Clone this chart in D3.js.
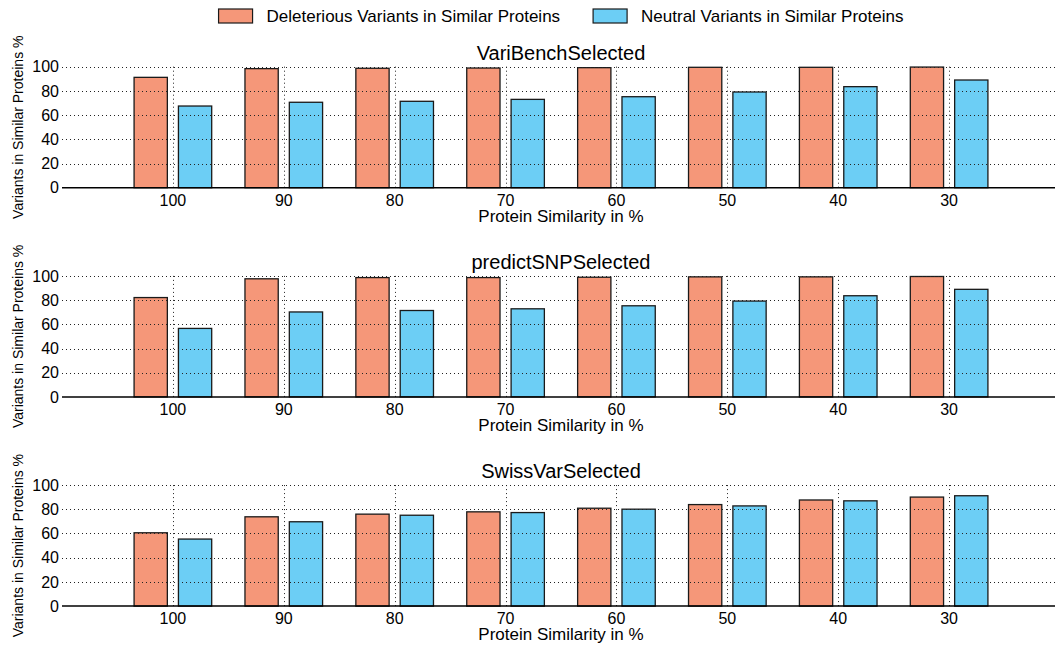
<!DOCTYPE html>
<html>
<head>
<meta charset="utf-8">
<script src="https://cdn.jsdelivr.net/npm/d3@7"></script>
<style>
  html, body { margin: 0; padding: 0; background: #fff; }
  svg { display: block; font-family: "Liberation Sans", Arial, sans-serif; }
</style>
</head>
<body>
<svg id="chart" width="1055" height="650"></svg>
<script>
// Protein similarity thresholds (x categories)
const categories = ["100", "90", "80", "70", "60", "50", "40", "30"];
const yTicks = [0, 20, 40, 60, 80, 100];
const seriesNames = ["Deleterious Variants in Similar Proteins", "Neutral Variants in Similar Proteins"];
const panelTitles = ["VariBenchSelected", "predictSNPSelected", "SwissVarSelected"];

// Percent of variants found in similar proteins, per dataset
const variBenchDeleterious = [91.2, 98.4, 98.7, 98.9, 99.2, 99.5, 99.5, 99.7];
const variBenchNeutral     = [67.5, 70.6, 71.4, 73.0, 75.2, 79.1, 83.5, 89.0];
const predictSNPDeleterious = [82.1, 97.6, 98.6, 98.6, 98.9, 99.2, 99.2, 99.5];
const predictSNPNeutral     = [56.6, 70.2, 71.4, 72.8, 75.3, 79.2, 83.6, 88.9];
const swissVarDeleterious = [60.6, 73.8, 76.0, 77.9, 80.9, 83.9, 87.7, 90.1];
const swissVarNeutral     = [55.4, 69.7, 75.1, 77.3, 80.1, 82.8, 87.0, 91.2];

const panels = [
  { title: panelTitles[0], del: variBenchDeleterious, neu: variBenchNeutral },
  { title: panelTitles[1], del: predictSNPDeleterious, neu: predictSNPNeutral },
  { title: panelTitles[2], del: swissVarDeleterious, neu: swissVarNeutral }
];

const colors = ["#F59779", "#6CCEF5"];
const svg = d3.select("#chart");

// Shared horizontal scale: category index, with one empty slot on the left
const x = d3.scaleLinear().domain([-1, 8]).range([62, 1060]);
const barW = 0.3;
const offsets = [-0.35, 0.05];

const panelTop = 66.7, panelH = 121, panelGap = 209.2;

panels.forEach((p, pi) => {
  const top = panelTop + pi * panelGap;
  const y = d3.scaleLinear().domain([0, 100]).range([top + panelH, top]);
  const g = svg.append("g");

  // Bars
  [p.del, p.neu].forEach((vals, si) => {
    g.selectAll(null)
      .data(vals)
      .join("rect")
      .attr("x", (d, i) => x(i + offsets[si]))
      .attr("width", (d, i) => x(i + offsets[si] + barW) - x(i + offsets[si]))
      .attr("y", d => y(d))
      .attr("height", d => y(0) - y(d))
      .attr("fill", colors[si])
      .attr("stroke", "#1a1a1a")
      .attr("stroke-width", 1.3);
  });

  // Dotted grid drawn above the bars
  g.selectAll(null)
    .data(yTicks.filter(t => t > 0))
    .join("line")
    .attr("x1", x(-1)).attr("x2", x(8))
    .attr("y1", d => Math.round(y(d)) + 0.5).attr("y2", d => Math.round(y(d)) + 0.5)
    .attr("stroke", "#222").attr("stroke-width", 1)
    .attr("stroke-dasharray", "1,3");
  g.selectAll(null)
    .data(categories)
    .join("line")
    .attr("x1", (d, i) => Math.round(x(i)) + 0.5).attr("x2", (d, i) => Math.round(x(i)) + 0.5)
    .attr("y1", y(0)).attr("y2", y(100))
    .attr("stroke", "#222").attr("stroke-width", 1)
    .attr("stroke-dasharray", "1,3");

  // Bottom axis line
  g.append("line")
    .attr("x1", x(-1)).attr("x2", x(8))
    .attr("y1", y(0)).attr("y2", y(0))
    .attr("stroke", "#000").attr("stroke-width", 1.5);

  // Y tick labels
  g.selectAll(null)
    .data(yTicks)
    .join("text")
    .attr("x", x(-1) - 3)
    .attr("y", d => y(d))
    .attr("dy", "0.36em")
    .attr("text-anchor", "end")
    .attr("font-size", 16)
    .attr("fill", "#000")
    .text(d => d);

  // X tick labels
  g.selectAll(null)
    .data(categories)
    .join("text")
    .attr("x", (d, i) => x(i))
    .attr("y", y(0) + 18)
    .attr("text-anchor", "middle")
    .attr("font-size", 16)
    .attr("fill", "#000")
    .text(d => d);

  // Axis labels and title
  g.append("text")
    .attr("x", (x(-1) + x(8)) / 2)
    .attr("y", y(0) + 34)
    .attr("text-anchor", "middle")
    .attr("font-size", 17)
    .text("Protein Similarity in %");

  g.append("text")
    .attr("transform", `translate(23,${(y(0) + y(100)) / 2}) rotate(-90)`)
    .attr("text-anchor", "middle")
    .attr("font-size", 14)
    .text("Variants in Similar Proteins %");

  g.append("text")
    .attr("x", (x(-1) + x(8)) / 2)
    .attr("y", top - 7)
    .attr("text-anchor", "middle")
    .attr("font-size", 20)
    .text(p.title);
});

// Legend, centred above the panels
const legendItems = [
  { name: seriesNames[0], color: colors[0] },
  { name: seriesNames[1], color: colors[1] }
];
const lg = svg.append("g");
const boxW = 34, boxH = 14, boxGap = 14, itemGap = 33;
const items = lg.selectAll("g")
  .data(legendItems)
  .join("g");
items.append("rect")
  .attr("y", 9)
  .attr("width", boxW).attr("height", boxH)
  .attr("fill", d => d.color)
  .attr("stroke", "#1a1a1a").attr("stroke-width", 1.2);
items.append("text")
  .attr("x", boxW + boxGap).attr("y", 16)
  .attr("dy", "0.36em")
  .attr("font-size", 17)
  .text(d => d.name);
let cursor = 0;
const widths = [];
items.each(function () {
  widths.push(boxW + boxGap + d3.select(this).select("text").node().getComputedTextLength());
});
const total = d3.sum(widths) + itemGap;
cursor = (x(-1) + x(8)) / 2 - total / 2;
items.attr("transform", (d, i) => {
  const t = `translate(${cursor},0)`;
  cursor += widths[i] + itemGap;
  return t;
});
</script>
</body>
</html>
